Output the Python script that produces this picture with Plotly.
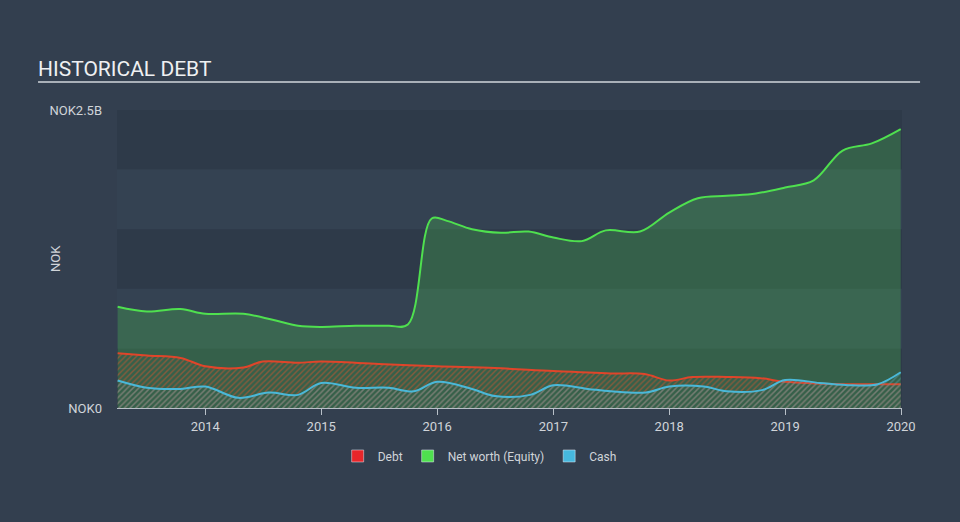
import plotly.graph_objects as go

# values in NOK billions
equity_dates = ["2013-03-31", "2013-07-01", "2013-10-15", "2014-01-01", "2014-05-01",
                "2014-08-01", "2014-10-20", "2015-01-01", "2015-04-20", "2015-08-01",
                "2015-10-01", "2015-12-15", "2016-02-01", "2016-04-20", "2016-07-20",
                "2016-10-15", "2017-01-01", "2017-04-01", "2017-06-15", "2017-10-01",
                "2018-01-01", "2018-04-01", "2018-07-01", "2018-10-01", "2019-01-01",
                "2019-04-01", "2019-07-01", "2019-10-01", "2019-12-31"]
equity = [0.85, 0.81, 0.83, 0.79, 0.79,
          0.74, 0.69, 0.68, 0.69, 0.69,
          0.70, 1.59, 1.57, 1.50, 1.47,
          1.48, 1.43, 1.40, 1.49, 1.48,
          1.64, 1.76, 1.78, 1.80, 1.85,
          1.91, 2.16, 2.22, 2.34]

debt_dates = ["2013-03-31", "2013-07-01", "2013-10-15", "2014-01-01", "2014-05-01",
              "2014-07-01", "2014-10-20", "2015-01-01", "2015-07-01", "2016-01-01",
              "2016-07-01", "2017-01-01", "2017-07-01", "2017-10-15", "2018-01-01",
              "2018-03-15", "2018-07-01", "2018-10-15", "2019-01-01", "2019-07-01",
              "2019-12-31"]
debt = [0.46, 0.44, 0.42, 0.35, 0.34,
        0.39, 0.38, 0.39, 0.37, 0.35,
        0.335, 0.31, 0.29, 0.285, 0.23,
        0.26, 0.26, 0.25, 0.22, 0.20,
        0.20]

cash_dates = ["2013-03-31", "2013-07-01", "2013-10-15", "2014-01-01", "2014-04-15",
              "2014-07-20", "2014-10-20", "2015-01-01", "2015-04-20", "2015-08-01",
              "2015-10-20", "2016-01-01", "2016-04-20", "2016-07-01", "2016-10-20",
              "2017-01-01", "2017-04-20", "2017-07-01", "2017-10-20", "2018-01-01",
              "2018-04-20", "2018-07-01", "2018-10-20", "2019-01-01", "2019-04-20",
              "2019-08-01", "2019-10-20", "2019-12-31"]
cash = [0.23, 0.17, 0.16, 0.18, 0.085,
        0.13, 0.11, 0.21, 0.17, 0.17,
        0.14, 0.22, 0.16, 0.10, 0.11,
        0.19, 0.16, 0.14, 0.13, 0.18,
        0.18, 0.14, 0.15, 0.235, 0.21,
        0.19, 0.20, 0.30]

B = 1e9
fig = go.Figure()

fig.add_trace(go.Scatter(x=equity_dates, y=[v * B for v in equity], mode="lines",
                         line=dict(color="#4fe04f", width=2, shape="spline", smoothing=1.0),
                         fill="tozeroy", fillcolor="rgba(79,224,79,0.23)",
                         showlegend=False, hoverinfo="skip"))
fig.add_trace(go.Scatter(x=debt_dates, y=[v * B for v in debt], mode="lines",
                         line=dict(color="#e0452a", width=2, shape="spline", smoothing=1.0),
                         fill="tozeroy", fillcolor="rgba(0,0,0,0)",
                         fillpattern=dict(shape="/", fgcolor="#d9552e", bgcolor="rgba(0,0,0,0)",
                                          size=4, solidity=0.35),
                         showlegend=False, hoverinfo="skip"))
fig.add_trace(go.Scatter(x=cash_dates, y=[v * B for v in cash], mode="lines",
                         line=dict(color="#4ab8d8", width=2, shape="spline", smoothing=1.0),
                         fill="tozeroy", fillcolor="rgba(0,0,0,0)",
                         fillpattern=dict(shape="/", fgcolor="#5aa6b4", bgcolor="rgba(0,0,0,0)",
                                          size=4, solidity=0.35),
                         showlegend=False, hoverinfo="skip"))

# legend squares
for name, col in [("Debt", "#e8262a"), ("Net worth (Equity)", "#4fe04f"), ("Cash", "#46b8de")]:
    fig.add_trace(go.Bar(x=[None], y=[None], name=name, marker_color=col))

# alternating horizontal bands
shapes = []
for lo in [0, 1.0, 2.0]:
    shapes.append(dict(type="rect", xref="paper", yref="y", x0=0, x1=1,
                       y0=lo * B, y1=(lo + 0.5) * B, fillcolor="#2e3a49",
                       line_width=0, layer="below"))
for lo in [0.5, 1.5]:
    shapes.append(dict(type="rect", xref="paper", yref="y", x0=0, x1=1,
                       y0=lo * B, y1=(lo + 0.5) * B, fillcolor="#344252",
                       line_width=0, layer="below"))
# rule under the title
shapes.append(dict(type="line", xref="paper", yref="paper", x0=-0.1006, x1=1.023,
                   y0=1.094, y1=1.094, line=dict(color="#a9b0b8", width=2)))

fig.update_layout(
    width=960, height=522,
    margin=dict(l=117, r=58, t=110, b=114),
    paper_bgcolor="#333f4f", plot_bgcolor="#333f4f",
    font=dict(family="Roboto", color="#d0d4d9", size=12),
    title=dict(text="HISTORICAL DEBT", x=38 / 960, xanchor="left",
               y=1 - 69 / 522, yanchor="middle",
               font=dict(size=21, color="#eef0f2", family="Roboto")),
    shapes=shapes,
    annotations=[dict(text="NOK", xref="paper", yref="paper", x=(55 - 117) / 785, y=0.5,
                      textangle=-90, showarrow=False, xanchor="center", yanchor="middle",
                      font=dict(size=13, color="#d0d4d9"))],
    showlegend=True,
    legend=dict(orientation="h", x=0.462, xanchor="center", y=-0.161, yanchor="middle",
                font=dict(size=12, color="#d0d4d9"), bgcolor="rgba(0,0,0,0)",
                itemwidth=30, tracegroupgap=0),
    xaxis=dict(type="date", range=["2013-03-29", "2020-01-04"],
               tickvals=["2014-01-01", "2015-01-01", "2016-01-01", "2017-01-01",
                         "2018-01-01", "2019-01-01", "2020-01-01"],
               ticktext=["2014", "2015", "2016", "2017", "2018", "2019", "2020"],
               showgrid=False, zeroline=False, showline=True, linecolor="#b8c0c8",
               linewidth=1, ticks="outside", ticklen=6, tickcolor="#b8c0c8",
               tickfont=dict(size=13, color="#d0d4d9")),
    yaxis=dict(range=[0, 2.5 * B], tickvals=[0, 2.5 * B], ticktext=["NOK0", "NOK2.5B"],
               showgrid=False, zeroline=False, showline=False, ticks="",
               ticklabelstandoff=14,
               tickfont=dict(size=13, color="#d0d4d9")),
    bargap=0,
)

fig.write_html("out.html", config={"displayModeBar": False},
               post_script="document.body.style.margin='0';")
